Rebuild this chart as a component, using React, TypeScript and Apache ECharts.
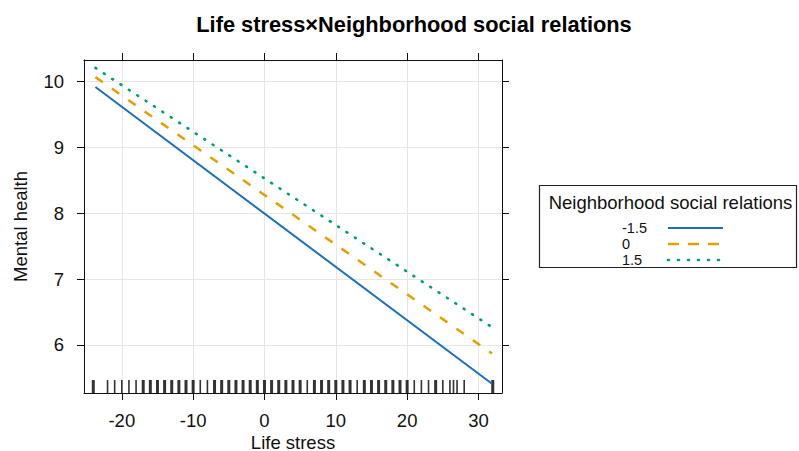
import React, { useEffect, useRef } from "react";
import * as echarts from "echarts";

const titleText = "Life stress×Neighborhood social relations";
const xName = "Life stress";
const yName = "Mental health";
const legendTitle = "Neighborhood social relations";
const groupLabels = ["-1.5", "0", "1.5"];
const lineX = [-23.7, 31.9];
const lowValues = [9.92, 5.41];
const midValues = [10.07, 5.87];
const highValues = [10.21, 6.27];
const xTicks = [-20, -10, 0, 10, 20, 30];
const yTicks = [6, 7, 8, 9, 10];
const xRange = [-25.3, 33.3];
const yRange = [5.27, 10.33];
const rugValues = [
  -24, -22, -21, -20, -19, -18, -17, -16, -15, -14, -13, -12, -11, -10, -9, -8, -7, -6, -5, -4,
  -3, -2, -1, 0, 1, 2, 3, 4, 5, 6, 7, 8, 9, 10, 11, 12, 13, 14, 15, 16, 17, 18, 19, 20, 21, 22,
  23, 24, 25, 26, 26.5, 27, 28, 32,
];
const rugCounts = [
  2, 1, 1, 1, 1, 1, 2, 2, 2, 2, 2, 2, 2, 2, 1, 1, 2, 2, 2, 2,
  2, 2, 2, 2, 2, 2, 2, 2, 2, 1, 2, 2, 2, 2, 2, 2, 1, 2, 2, 2, 2, 2, 2, 2, 1, 1,
  1, 2, 1, 1, 1, 1, 1, 2,
];
const seriesColors = ["#1a6fbf", "#e69f00", "#009e73"];

const FONT = "'Liberation Sans', Arial, sans-serif";

export default function App() {
  const ref = useRef<HTMLDivElement>(null);
  useEffect(() => {
    document.body.style.margin = "0";
    const chart = echarts.init(ref.current!, undefined, { renderer: "svg" });
    const seriesValues = [lowValues, midValues, highValues];
    const dashTypes: any[] = ["solid", [9, 11], [1, 9]];
    const widths = [2, 2.5, 2.6];
    const lineSeries = seriesValues.map((vals, k) => ({
      type: "line",
      name: groupLabels[k],
      data: lineX.map((x, i) => [x, vals[i]]),
      showSymbol: false,
      symbol: "none",
      lineStyle: { color: seriesColors[k], width: widths[k], type: dashTypes[k], cap: k === 2 ? "round" : "butt" },
      z: 3,
    }));
    const legendRows = [228, 244, 260];
    const legendDash: any[] = [null, [11, 9], [1, 9]];
    const legendGraphics: any[] = [];
    groupLabels.forEach((lab, k) => {
      legendGraphics.push({
        type: "text",
        x: 622,
        y: legendRows[k],
        style: { text: lab, font: `14.5px ${FONT}`, fill: "#111", textVerticalAlign: "middle" },
      });
      legendGraphics.push({
        type: "line",
        shape: { x1: 668, y1: legendRows[k], x2: 723, y2: legendRows[k] },
        style: {
          stroke: seriesColors[k],
          lineWidth: widths[k],
          lineDash: legendDash[k] || undefined,
          lineCap: k === 2 ? "round" : "butt",
        },
      });
    });
    const axisCommon = {
      type: "value" as const,
      axisLine: { show: true, onZero: false, lineStyle: { color: "#111", width: 1 } },
      axisTick: { show: true, inside: false, length: 7, lineStyle: { color: "#111" } },
    };
    chart.setOption({
      animation: false,
      grid: { left: 84, top: 60, right: 297, bottom: 58, containLabel: false, outerBoundsMode: "none" },
      xAxis: [
        {
          ...axisCommon,
          position: "bottom",
          min: xRange[0],
          max: xRange[1],
          axisTick: { ...axisCommon.axisTick, customValues: xTicks },
          axisLabel: {
            customValues: xTicks,
            fontSize: 18.5,
            lineHeight: 16,
            fontFamily: FONT,
            color: "#111",
            margin: 19.5,
          },
          splitLine: { show: true, lineStyle: { color: "#e6e6e6", width: 1 } },
          name: xName,
          nameLocation: "middle",
          nameGap: 41,
          nameMoveOverlap: false,
          nameTextStyle: { fontSize: 18.5, lineHeight: 16, fontFamily: FONT, color: "#111" },
        },
        {
          ...axisCommon,
          position: "top",
          min: xRange[0],
          max: xRange[1],
          axisTick: { ...axisCommon.axisTick, customValues: xTicks },
          axisLabel: { show: false, customValues: xTicks },
          splitLine: { show: false },
        },
      ],
      yAxis: [
        {
          ...axisCommon,
          position: "left",
          min: yRange[0],
          max: yRange[1],
          axisTick: { ...axisCommon.axisTick, customValues: yTicks },
          axisLabel: { customValues: yTicks, fontSize: 18.5, fontFamily: FONT, color: "#111", margin: 20 },
          splitLine: { show: true, lineStyle: { color: "#e6e6e6", width: 1 } },
          name: yName,
          nameLocation: "middle",
          nameGap: 54,
          nameMoveOverlap: false,
          nameTextStyle: { fontSize: 18.5, fontFamily: FONT, color: "#111" },
        },
        {
          ...axisCommon,
          position: "right",
          min: yRange[0],
          max: yRange[1],
          axisTick: { ...axisCommon.axisTick, customValues: yTicks },
          axisLabel: { show: false, customValues: yTicks },
          splitLine: { show: false },
        },
      ],
      series: [
        ...lineSeries,
        {
          type: "scatter",
          data: rugValues.map((v, i) => [v, yRange[0], rugCounts[i]]),
          symbol: "rect",
          symbolSize: (val: number[]) => [val[2] > 1 ? 3 : 1.6, 13],
          symbolOffset: [0, -6.5],
          itemStyle: { color: "#000" },
          silent: true,
          clip: false,
          z: 2,
        },
      ],
      graphic: [
        {
          type: "text",
          x: 414,
          y: 24,
          style: {
            text: titleText,
            font: `bold 21.8px ${FONT}`,
            fill: "#000",
            textAlign: "center",
            textVerticalAlign: "middle",
          },
        },
        {
          type: "rect",
          shape: { x: 539.5, y: 185.5, width: 257, height: 82 },
          style: { fill: "#fff", stroke: "#222", lineWidth: 1.2 },
        },
        {
          type: "text",
          x: 670.5,
          y: 202,
          style: {
            text: legendTitle,
            font: `18.5px ${FONT}`,
            fill: "#111",
            textAlign: "center",
            textVerticalAlign: "middle",
          },
        },
        ...legendGraphics,
      ],
    });
    return () => chart.dispose();
  }, []);
  return <div ref={ref} style={{ width: 799, height: 451 }} />;
}
